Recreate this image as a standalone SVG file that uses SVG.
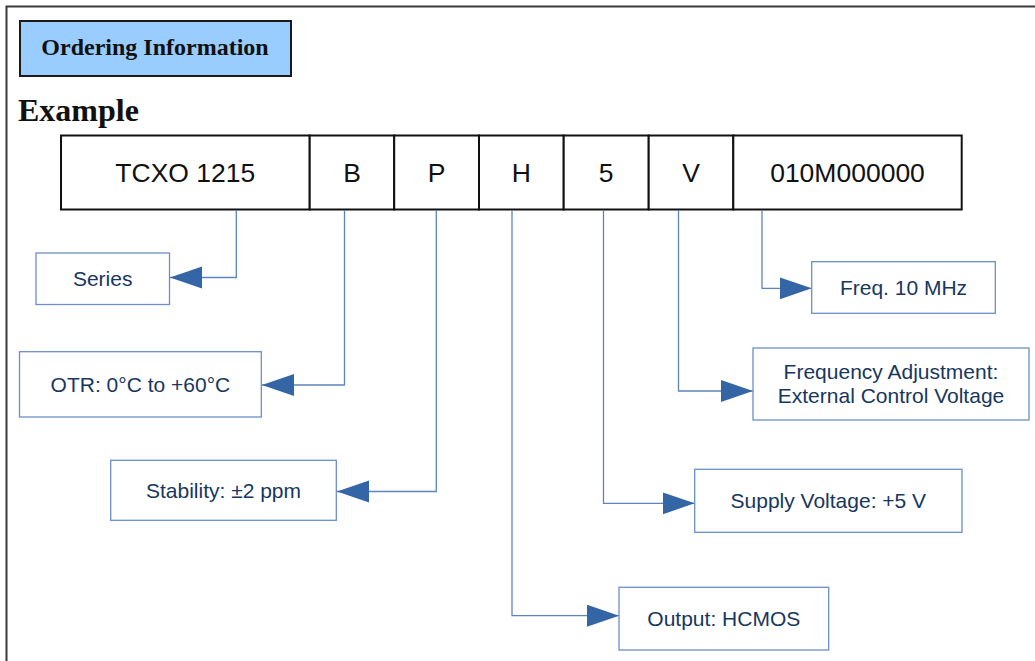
<svg xmlns="http://www.w3.org/2000/svg" width="1035" height="661" viewBox="0 0 1035 661">
<style>
.frame{fill:none;stroke:#3a3a3a;stroke-width:2}
.hdr{fill:#99ccff;stroke:#1a1a1a;stroke-width:2}
.hdrt{font-family:"Liberation Serif",serif;font-weight:bold;font-size:24px;fill:#111}
.ex{font-family:"Liberation Serif",serif;font-weight:bold;font-size:32px;fill:#111}
.cell{fill:#fff;stroke:#111;stroke-width:2}
.cellt{font-family:"Liberation Sans",Arial,sans-serif;font-size:26.5px;fill:#111;text-anchor:middle}
.lab{fill:#fff;stroke:#6a8fc8;stroke-width:1.3}
.labt{font-family:"Liberation Sans",Arial,sans-serif;font-size:21px;fill:#17375e;text-anchor:middle}
.con{fill:none;stroke:#5d84be;stroke-width:1.3}
</style>
<defs>
<marker id="arr" markerUnits="userSpaceOnUse" markerWidth="34" markerHeight="24" refX="32" refY="11" orient="auto" viewBox="0 0 34 24">
<path d="M0,0 L32,11 L0,22 Z" fill="#3465a4"/>
</marker>
</defs>
<path class="frame" d="M6.5,661 L6.5,6.5 L1035,6.5"/>
<g id="header">
<rect class="hdr" x="20" y="21" width="271" height="55"/>
<text class="hdrt" x="155" y="54.5" text-anchor="middle">Ordering Information</text>
</g>
<g id="example-title"><text class="ex" x="18" y="121">Example</text></g>
<g id="code">
<g id="cell-series"><rect class="cell" x="61" y="135.5" width="248.7" height="74"/><text class="cellt" x="185.3" y="181.7">TCXO 1215</text></g>
<g id="cell-b"><rect class="cell" x="309.7" y="135.5" width="84.5" height="74"/><text class="cellt" x="352" y="181.7">B</text></g>
<g id="cell-p"><rect class="cell" x="394.2" y="135.5" width="84.8" height="74"/><text class="cellt" x="436.6" y="181.7">P</text></g>
<g id="cell-h"><rect class="cell" x="479" y="135.5" width="84.7" height="74"/><text class="cellt" x="521.3" y="181.7">H</text></g>
<g id="cell-5"><rect class="cell" x="563.7" y="135.5" width="85" height="74"/><text class="cellt" x="606.2" y="181.7">5</text></g>
<g id="cell-v"><rect class="cell" x="648.7" y="135.5" width="84.6" height="74"/><text class="cellt" x="691" y="181.7">V</text></g>
<g id="cell-freq"><rect class="cell" x="733.3" y="135.5" width="228.4" height="74"/><text class="cellt" x="847.5" y="181.7" font-size="26px">010M000000</text></g>
</g>
<g id="connectors">
<path class="con" marker-end="url(#arr)" d="M236.3,210 V277.5 H170"/>
<path class="con" marker-end="url(#arr)" d="M344.5,210 V385 H262"/>
<path class="con" marker-end="url(#arr)" d="M436.3,210 V491.5 H337"/>
<path class="con" marker-end="url(#arr)" d="M512,210 V615.7 H619"/>
<path class="con" marker-end="url(#arr)" d="M603.5,210 V503.3 H694.7"/>
<path class="con" marker-end="url(#arr)" d="M678.5,210 V391 H753"/>
<path class="con" marker-end="url(#arr)" d="M762,210 V288.3 H811.7"/>
</g>
<g id="label-series"><rect class="lab" x="36" y="253" width="133.5" height="51.5"/><text class="labt" x="102.7" y="286.3">Series</text></g>
<g id="label-otr"><rect class="lab" x="19.5" y="351.7" width="241.8" height="65.3"/><text class="labt" x="140.4" y="391.8">OTR: 0°C to +60°C</text></g>
<g id="label-stability"><rect class="lab" x="110.7" y="460.3" width="225.6" height="60"/><text class="labt" x="223.5" y="497.8">Stability: ±2 ppm</text></g>
<g id="label-output"><rect class="lab" x="619" y="587.3" width="209.7" height="62.7"/><text class="labt" x="723.8" y="626.2">Output: HCMOS</text></g>
<g id="label-supply"><rect class="lab" x="694.7" y="469.3" width="267.3" height="63"/><text class="labt" x="828.3" y="508.3">Supply Voltage: +5 V</text></g>
<g id="label-adj"><rect class="lab" x="753" y="348" width="276" height="72"/><text class="labt" x="891" y="379.3">Frequency Adjustment:</text><text class="labt" x="891" y="403.3">External Control Voltage</text></g>
<g id="label-freq"><rect class="lab" x="811.7" y="261.7" width="183.6" height="51.6"/><text class="labt" x="903.5" y="295">Freq. 10 MHz</text></g>
</svg>
